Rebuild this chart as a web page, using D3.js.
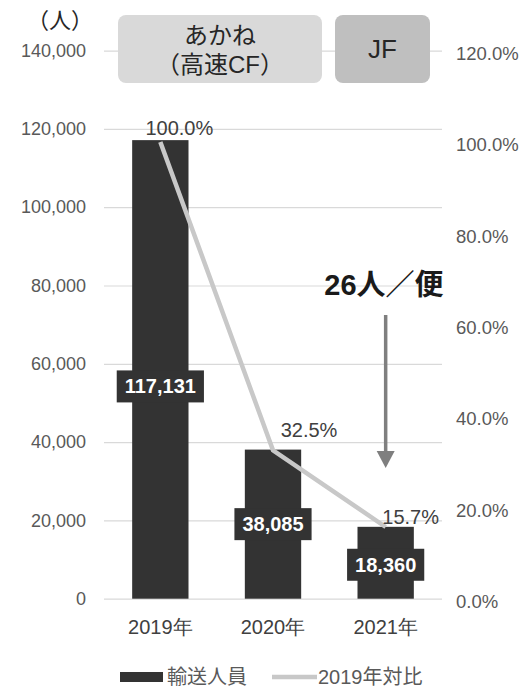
<!DOCTYPE html>
<html><head><meta charset="utf-8">
<script src="https://cdn.jsdelivr.net/npm/d3@7"></script>
<style>
html,body{margin:0;padding:0;background:#fff;}
svg{display:block;font-family:"Liberation Sans","Noto Sans CJK JP",Arial,sans-serif;}
</style></head>
<body>
<svg id="chart" width="523" height="690"></svg>
<script>
// ---- data ----
const categories = ["2019年", "2020年", "2021年"];
const passengers = [117131, 38085, 18360];
const ratio = [1.000, 0.325, 0.157];
const leftTicks = [0, 20000, 40000, 60000, 80000, 100000, 120000, 140000];
const rightTicks = [0, 0.2, 0.4, 0.6, 0.8, 1.0, 1.2];
const seriesNames = ["輸送人員", "2019年対比"];
const unitLabel = "（人）";
const headerBoxes = [["あかね", "（高速CF）"], ["JF"]];
const annotation = "26人／便";

// ---- layout ----
const W = 523, H = 690;
const plot = {left: 104, right: 442, top: 50.6, bottom: 598.7};
const svg = d3.select("#chart");

const x = d3.scaleBand().domain(categories).range([plot.left, plot.right])
  .paddingInner(0.5).paddingOuter(0.25);
const y = d3.scaleLinear().domain([0, 140000]).range([plot.bottom, plot.top]);
const yR = d3.scaleLinear().domain([0, 1.2]).range([plot.bottom, plot.top]);

const tickColor = "#595959";
const fmt = d3.format(",");
const pfmt = d3.format(".1%");

// gridlines
const grid = svg.append("g").attr("transform", `translate(${plot.left},0)`)
  .call(d3.axisLeft(y).tickValues(leftTicks).tickSize(-(plot.right - plot.left)).tickFormat(""));
grid.select(".domain").remove();
grid.selectAll("line").attr("stroke", "#d9d9d9").attr("stroke-width", 1.2);

// left axis
const la = svg.append("g").attr("transform", `translate(86,0)`)
  .call(d3.axisLeft(y).tickValues(leftTicks).tickSize(0).tickPadding(0).tickFormat(fmt));
la.select(".domain").remove();
la.selectAll("text").attr("fill", tickColor).attr("font-size", 18).attr("font-family", null);

// right axis
const ra = svg.append("g").attr("transform", `translate(456,3)`)
  .call(d3.axisRight(yR).tickValues(rightTicks).tickSize(0).tickPadding(0).tickFormat(pfmt));
ra.select(".domain").remove();
ra.selectAll("text").attr("fill", tickColor).attr("font-size", 18.5).attr("font-family", null);

// x axis
const xa = svg.append("g").attr("transform", `translate(0,620)`)
  .call(d3.axisBottom(x).tickSize(0).tickPadding(0));
xa.select(".domain").remove();
xa.selectAll("text").attr("fill", "#404040").attr("font-size", 20).attr("font-family", null).attr("dy", "0.7em");

// header boxes
const boxes = [
  {x0: 118, x1: 322, fill: "#d9d9d9"},
  {x0: 335, x1: 430, fill: "#bfbfbf"}
];
headerBoxes.forEach((lines, i) => {
  const b = boxes[i];
  svg.append("rect").attr("x", b.x0).attr("y", 15).attr("width", b.x1 - b.x0).attr("height", 68)
    .attr("rx", 8).attr("fill", b.fill);
  const cx = (b.x0 + b.x1) / 2;
  if (lines.length === 2) {
    lines.forEach((s, j) => svg.append("text").attr("x", cx).attr("y", 35 + j * 29)
      .attr("text-anchor", "middle").attr("dominant-baseline", "central")
      .attr("font-size", 24).attr("fill", "#262626").text(s));
  } else {
    svg.append("text").attr("x", cx).attr("y", 49).attr("text-anchor", "middle")
      .attr("dominant-baseline", "central").attr("font-size", 26).attr("fill", "#262626").text(lines[0]);
  }
});

// unit label
svg.append("text").attr("x", 60).attr("y", 20).attr("text-anchor", "middle")
  .attr("dominant-baseline", "central").attr("font-size", 22).attr("fill", "#262626").text(unitLabel);

// bars
const barColor = "#333333";
svg.append("g").selectAll("rect").data(categories).join("rect")
  .attr("x", d => x(d)).attr("width", x.bandwidth())
  .attr("y", (d, i) => y(passengers[i])).attr("height", (d, i) => y(0) - y(passengers[i]))
  .attr("fill", barColor);

// line
const line = d3.line().x(d => x(d[0]) + x.bandwidth() / 2).y(d => yR(d[1]));
svg.append("path").datum(categories.map((c, i) => [c, ratio[i]]))
  .attr("d", line).attr("fill", "none").attr("stroke", "#c8c8c8").attr("stroke-width", 4.5);

// line labels
const lineLabelOffset = [[19, -14], [36, -20], [25, -10]];
categories.forEach((c, i) => {
  svg.append("text").attr("x", x(c) + x.bandwidth() / 2 + lineLabelOffset[i][0])
    .attr("y", yR(ratio[i]) + lineLabelOffset[i][1])
    .attr("text-anchor", "middle").attr("dominant-baseline", "central")
    .attr("font-size", 20).attr("fill", "#404040").text(pfmt(ratio[i]));
});

// bar value labels
const barLabelShift = [17, 0, 2];
categories.forEach((c, i) => {
  const cx = x(c) + x.bandwidth() / 2;
  const cy = y(passengers[i] / 2) + barLabelShift[i];
  const g = svg.append("g");
  const t = g.append("text").attr("x", cx).attr("y", cy).attr("text-anchor", "middle")
    .attr("dominant-baseline", "central").attr("font-size", 20).attr("font-weight", "bold")
    .attr("fill", "#ffffff").text(fmt(passengers[i]));
  const bb = t.node().getBBox();
  g.insert("rect", "text").attr("x", bb.x - 8).attr("y", cy - 16).attr("width", bb.width + 16)
    .attr("height", 32).attr("fill", barColor);
});

// annotation
svg.append("text").attr("x", 384).attr("y", 285).attr("text-anchor", "middle")
  .attr("dominant-baseline", "central").attr("font-size", 29).attr("font-weight", "bold")
  .attr("fill", "#1a1a1a").text(annotation);
const ax = x(categories[2]) + x.bandwidth() / 2;
svg.append("line").attr("x1", ax).attr("x2", ax).attr("y1", 315).attr("y2", 454)
  .attr("stroke", "#7f7f7f").attr("stroke-width", 3.5);
svg.append("path").attr("d", `M${ax - 9},451 L${ax + 9},451 L${ax},468 Z`).attr("fill", "#7f7f7f");

// legend
const lg = svg.append("g");
lg.append("rect").attr("x", 120).attr("y", 672).attr("width", 43).attr("height", 10).attr("fill", barColor);
lg.append("text").attr("x", 167).attr("y", 677).attr("dominant-baseline", "central")
  .attr("font-size", 20).attr("fill", "#595959").text(seriesNames[0]);
lg.append("line").attr("x1", 272).attr("x2", 317).attr("y1", 677).attr("y2", 677)
  .attr("stroke", "#c8c8c8").attr("stroke-width", 4.5);
lg.append("text").attr("x", 318).attr("y", 677).attr("dominant-baseline", "central")
  .attr("font-size", 20).attr("fill", "#595959").text(seriesNames[1]);
</script>
</body></html>
